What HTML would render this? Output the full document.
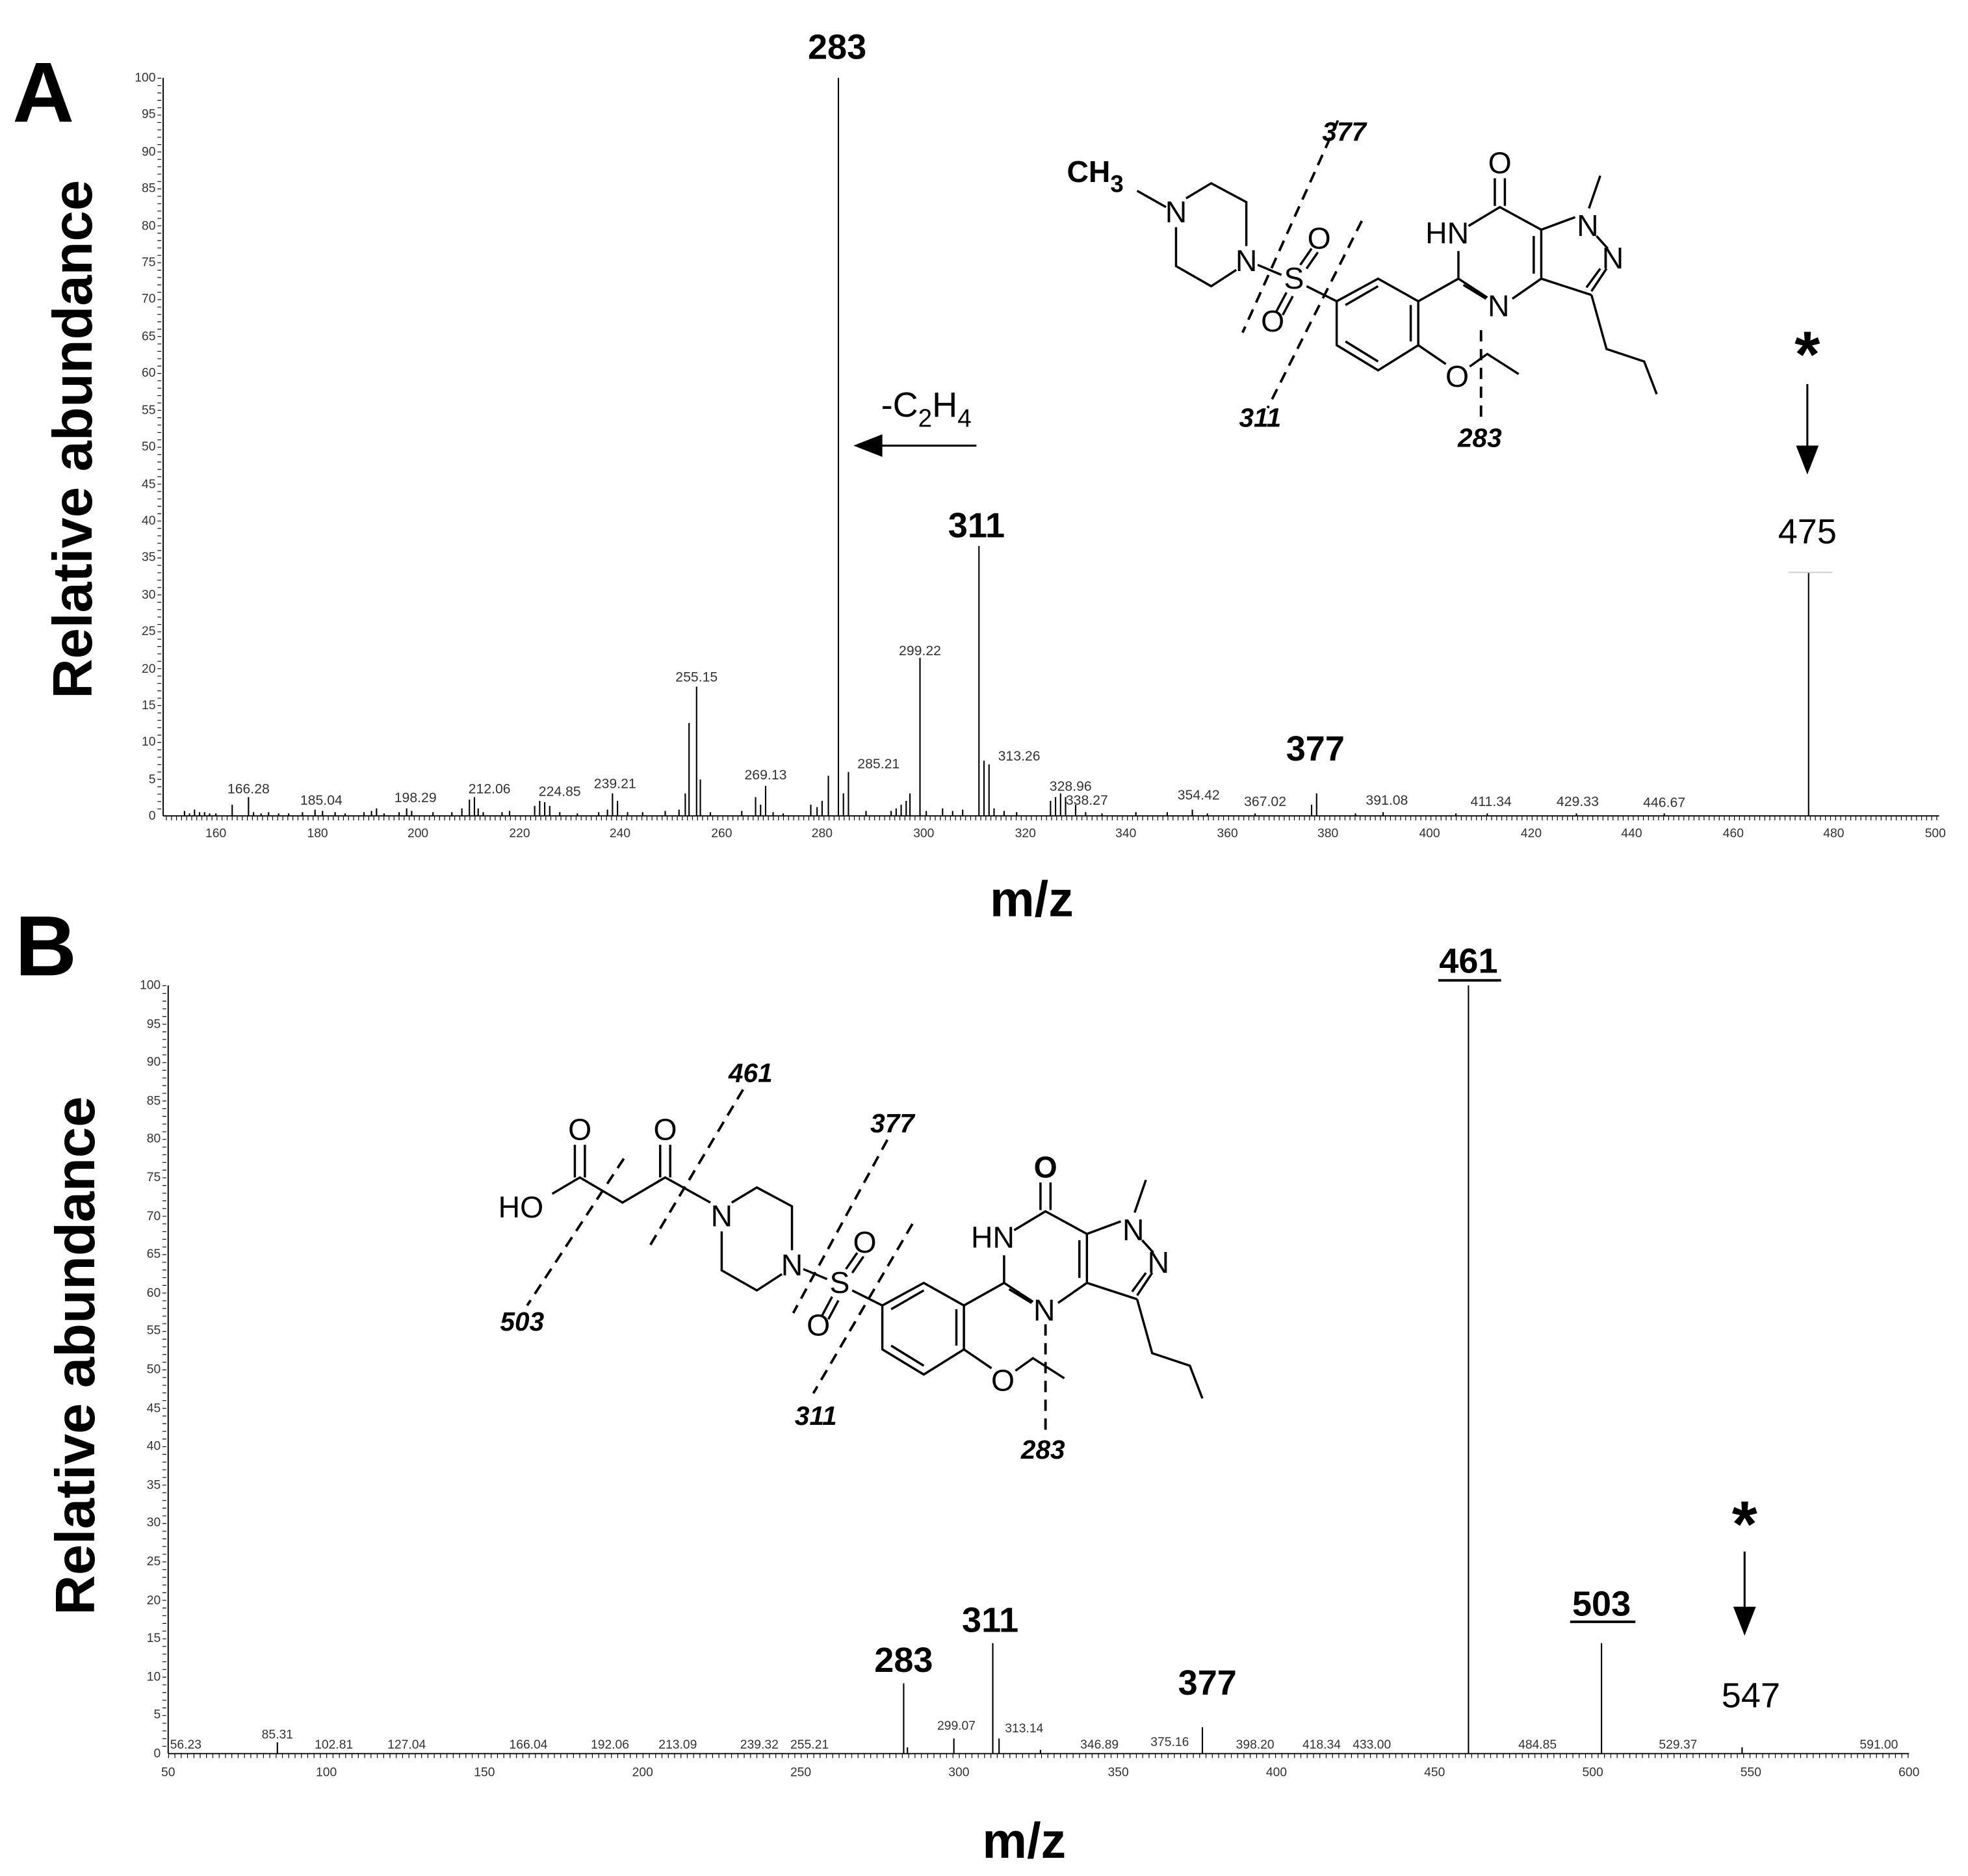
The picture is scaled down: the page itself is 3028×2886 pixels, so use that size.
<!DOCTYPE html>
<html><head><meta charset="utf-8"><style>
html,body{margin:0;padding:0;background:#fff}
svg{display:block}
text{font-family:"Liberation Sans",Arial,sans-serif}
.t{font-size:10px;fill:#333}
.pl{font-size:11px;fill:#333;text-anchor:middle}
.plb{font-size:10px;fill:#333;text-anchor:middle}
.big{font-size:28px;font-weight:bold;text-anchor:middle}
.it{font-size:21px;font-weight:bold;font-style:italic;text-anchor:middle}
.b{stroke:#000;stroke-width:1.8;fill:none}
.d{stroke:#000;stroke-width:2;fill:none;stroke-dasharray:9 6}
.sl{font-size:24px;text-anchor:middle}
</style></head><body>
<svg width="3028" height="2886" viewBox="0 0 1568 1494.5" preserveAspectRatio="none" xmlns="http://www.w3.org/2000/svg">
<!-- ================= PANEL A ================= -->
<text x="10" y="97" style="font-size:68px;font-weight:bold">A</text>
<text transform="translate(73,350) rotate(-90)" style="font-size:44px;font-weight:bold;text-anchor:middle">Relative abundance</text>
<text x="822" y="730" style="font-size:40px;font-weight:bold;text-anchor:middle">m/z</text>
<line x1="130" y1="62" x2="130" y2="650" stroke="#000" stroke-width="1"/>
<line x1="130" y1="650" x2="1545" y2="650" stroke="#000" stroke-width="1"/>
<line x1="127" y1="62" x2="127" y2="650" stroke="#000" stroke-width="3" stroke-dasharray="0.6 5.28"/>
<line x1="131" y1="652" x2="1545" y2="652" stroke="#000" stroke-width="3" stroke-dasharray="0.6 3.43" stroke-dashoffset="-1.3"/>
<g class="t" text-anchor="end">
<text x="124" y="653">0</text><text x="124" y="624">5</text><text x="124" y="594">10</text><text x="124" y="565">15</text><text x="124" y="536">20</text><text x="124" y="506">25</text><text x="124" y="477">30</text><text x="124" y="447">35</text><text x="124" y="418">40</text><text x="124" y="389">45</text><text x="124" y="359">50</text><text x="124" y="330">55</text><text x="124" y="300">60</text><text x="124" y="271">65</text><text x="124" y="241">70</text><text x="124" y="212">75</text><text x="124" y="183">80</text><text x="124" y="153">85</text><text x="124" y="124">90</text><text x="124" y="94">95</text><text x="124" y="65">100</text>
</g>
<g class="t" text-anchor="middle">
<text x="172" y="667">160</text><text x="253" y="667">180</text><text x="333" y="667">200</text><text x="414" y="667">220</text><text x="494" y="667">240</text><text x="575" y="667">260</text><text x="655" y="667">280</text><text x="736" y="667">300</text><text x="817" y="667">320</text><text x="897" y="667">340</text><text x="978" y="667">360</text><text x="1058" y="667">380</text><text x="1139" y="667">400</text><text x="1220" y="667">420</text><text x="1300" y="667">440</text><text x="1381" y="667">460</text><text x="1461" y="667">480</text><text x="1542" y="667">500</text>
</g>
<g stroke="#000" stroke-width="1.1">
<path d="M147 650v-4M151 650v-2M155 650v-5M159 650v-3M163 650v-3M167 650v-2M172 650v-2M185 650v-9M198 650v-15M202 650v-3M208 650v-2M214 650v-3M222 650v-2M230 650v-2M241 650v-3M251 650v-5M257 650v-4M267 650v-3M275 650v-2M290 650v-3M296 650v-4M300 650v-6M306 650v-2M318 650v-3M324 650v-6M328 650v-4M345 650v-3M360 650v-3M368 650v-6M374 650v-13M378 650v-15M381 650v-6M385 650v-3M400 650v-3M406 650v-4M426 650v-8M430 650v-12M434 650v-11M438 650v-8M446 650v-3M460 650v-2M477 650v-3M484 650v-5M488 650v-18M492 650v-12M500 650v-3M512 650v-3M530 650v-4M541 650v-5M546 650v-18M549 650v-74M555 650v-103M558 650v-29M566 650v-3M591 650v-4M602 650v-15M606 650v-9M610 650v-24M616 650v-3M624 650v-2M646 650v-9M651 650v-7M655 650v-12M660 650v-32M668 650v-588M672 650v-18M676 650v-35M690 650v-4M710 650v-4M714 650v-6M718 650v-9M722 650v-12M725 650v-18M733 650v-126M738 650v-4M751 650v-6M759 650v-4M767 650v-5M780 650v-215M784 650v-44M788 650v-41M792 650v-6M800 650v-4M810 650v-3M837 650v-12M841 650v-15M845 650v-18M849 650v-15M857 650v-9M865 650v-3M878 650v-2M905 650v-3M930 650v-3M950 650v-5M962 650v-2M1000 650v-2M1045 650v-9M1049 650v-18M1080 650v-2M1102 650v-3M1160 650v-2M1185 650v-2M1256 650v-2M1326 650v-2M1441 650v-194"/>
</g>
<line x1="1425" y1="456" x2="1460" y2="456" stroke="#ccc" stroke-width="1"/>
<g class="pl">
<text x="198" y="632">166.28</text><text x="256" y="641">185.04</text><text x="331" y="639">198.29</text><text x="390" y="632">212.06</text><text x="446" y="634">224.85</text><text x="490" y="628">239.21</text><text x="555" y="543">255.15</text><text x="610" y="621">269.13</text><text x="700" y="612">285.21</text><text x="733" y="522">299.22</text><text x="812" y="606">313.26</text><text x="853" y="630">328.96</text><text x="866" y="641">338.27</text><text x="955" y="637">354.42</text><text x="1008" y="642">367.02</text><text x="1105" y="641">391.08</text><text x="1188" y="642">411.34</text><text x="1257" y="642">429.33</text><text x="1326" y="643">446.67</text>
</g>
<text class="big" x="667" y="47">283</text>
<text class="big" x="778" y="428">311</text>
<text class="big" x="1048" y="606">377</text>
<text class="big" x="1440" y="433" style="font-weight:normal">475</text>
<text x="1440" y="300" style="font-size:52px;font-weight:bold;text-anchor:middle">*</text>
<line x1="1440" y1="306" x2="1440" y2="360" stroke="#000" stroke-width="1.6"/>
<path d="M1431 355 L1449 355 L1440 378 Z" fill="#000"/>
<text x="738" y="332" style="font-size:28px;text-anchor:middle">-C<tspan dy="8" style="font-size:20px">2</tspan><tspan dy="-8">H</tspan><tspan dy="8" style="font-size:20px">4</tspan></text>
<line x1="700" y1="355" x2="778" y2="355" stroke="#000" stroke-width="1.6"/>
<path d="M680 355 L703 346 L703 364 Z" fill="#000"/>

<!-- Structure A -->
<text x="850" y="145" style="font-size:24px;font-weight:bold">CH<tspan dy="8" style="font-size:19px">3</tspan></text>
<line class="b" x1="906" y1="152" x2="929" y2="165"/>
<g>
<g class="sl">
<text x="937" y="177">N</text><text x="993" y="216">N</text>
<text x="1031" y="230">S</text><text x="1051" y="198">O</text><text x="1014" y="264">O</text>
<text x="1153" y="194">HN</text><text x="1194" y="252">N</text><text x="1195" y="138">O</text>
<text x="1265" y="188">N</text><text x="1285" y="214">N</text><text x="1161" y="308">O</text>
</g>
<path class="b" d="M945 158 L965 146 L993 161 L993 196 M985 215 L965 228 L937 212 L937 181"/>
<path class="b" d="M1002 211 L1021 219 M1036 211 L1045 198 M1041 214 L1050 201 M1025 233 L1017 248 M1030 236 L1022 251 M1041 228 L1065 240"/>
<path class="b" d="M1065 240 L1098 222 L1130 240 L1130 275 L1098 295 L1065 275 Z M1072 243 L1098 228 M1124 243 L1124 272 M1072 272 L1098 288"/>
<path class="b" d="M1130 240 L1162 222 M1162 222 L1162 200 M1170 180 L1195 165 L1228 183 L1228 222 L1205 238 M1162 222 L1185 237 M1166 227 L1184 238 M1222 188 L1222 218 M1191 164 L1191 142 M1199 164 L1199 142 M1228 183 L1255 173 M1266 166 L1275 140 M1272 188 L1281 198 M1280 214 L1268 232 M1275 214 L1264 229 M1228 222 L1268 235 M1268 235 L1280 278 L1310 288 L1320 314"/>
<path class="b" d="M1130 275 L1152 290 M1171 292 L1185 282 L1210 298"/>
</g>
<line class="d" x1="1066" y1="96" x2="990" y2="265"/>
<line class="d" x1="1085" y1="176" x2="1010" y2="325"/>
<line class="d" x1="1180" y1="263" x2="1180" y2="338"/>
<text class="it" x="1071" y="112">377</text>
<text class="it" x="1004" y="340">311</text>
<text class="it" x="1179" y="356">283</text>

<!-- ================= PANEL B ================= -->
<text x="12" y="777" style="font-size:68px;font-weight:bold">B</text>
<text transform="translate(75,1080) rotate(-90)" style="font-size:44px;font-weight:bold;text-anchor:middle">Relative abundance</text>
<text x="816" y="1480" style="font-size:40px;font-weight:bold;text-anchor:middle">m/z</text>
<line x1="134" y1="785" x2="134" y2="1397" stroke="#000" stroke-width="1"/>
<line x1="134" y1="1397" x2="1521" y2="1397" stroke="#000" stroke-width="1"/>
<line x1="131" y1="785" x2="131" y2="1397" stroke="#000" stroke-width="3" stroke-dasharray="0.6 5.52"/>
<line x1="134" y1="1399" x2="1521" y2="1399" stroke="#000" stroke-width="3" stroke-dasharray="0.6 4.44"/>
<g class="t" text-anchor="end">
<text x="128" y="1400">0</text><text x="128" y="1369">5</text><text x="128" y="1339">10</text><text x="128" y="1308">15</text><text x="128" y="1278">20</text><text x="128" y="1247">25</text><text x="128" y="1216">30</text><text x="128" y="1186">35</text><text x="128" y="1155">40</text><text x="128" y="1125">45</text><text x="128" y="1094">50</text><text x="128" y="1063">55</text><text x="128" y="1033">60</text><text x="128" y="1002">65</text><text x="128" y="972">70</text><text x="128" y="941">75</text><text x="128" y="910">80</text><text x="128" y="880">85</text><text x="128" y="849">90</text><text x="128" y="819">95</text><text x="128" y="788">100</text>
</g>
<g class="t" text-anchor="middle">
<text x="134" y="1415">50</text><text x="260" y="1415">100</text><text x="386" y="1415">150</text><text x="512" y="1415">200</text><text x="638" y="1415">250</text><text x="764" y="1415">300</text><text x="891" y="1415">350</text><text x="1017" y="1415">400</text><text x="1143" y="1415">450</text><text x="1269" y="1415">500</text><text x="1395" y="1415">550</text><text x="1521" y="1415">600</text>
</g>
<g stroke="#000" stroke-width="1.1">
<path d="M221 1397v-9M720 1397v-56M723 1397v-5M760 1397v-12M791 1397v-88M796 1397v-12M829 1397v-3M958 1397v-21M1170 1397v-612M1276 1397v-88M1388 1397v-5"/>
</g>
<g class="plb">
<text x="148" y="1393">56.23</text><text x="221" y="1385">85.31</text><text x="266" y="1393">102.81</text><text x="324" y="1393">127.04</text><text x="421" y="1393">166.04</text><text x="486" y="1393">192.06</text><text x="540" y="1393">213.09</text><text x="605" y="1393">239.32</text><text x="645" y="1393">255.21</text><text x="762" y="1378">299.07</text><text x="816" y="1380">313.14</text><text x="876" y="1393">346.89</text><text x="932" y="1391">375.16</text><text x="1000" y="1393">398.20</text><text x="1053" y="1393">418.34</text><text x="1093" y="1393">433.00</text><text x="1225" y="1393">484.85</text><text x="1337" y="1393">529.37</text><text x="1497" y="1393">591.00</text>
</g>
<text class="big" x="1170" y="775">461</text>
<line x1="1146" y1="781" x2="1196" y2="781" stroke="#000" stroke-width="2"/>
<text class="big" x="1276" y="1287">503</text>
<line x1="1251" y1="1292" x2="1303" y2="1292" stroke="#000" stroke-width="2"/>
<text class="big" x="789" y="1300">311</text>
<text class="big" x="720" y="1332">283</text>
<text class="big" x="962" y="1350">377</text>
<text class="big" x="1395" y="1360" style="font-weight:normal">547</text>
<text x="1390" y="1232" style="font-size:52px;font-weight:bold;text-anchor:middle">*</text>
<line x1="1390" y1="1236" x2="1390" y2="1285" stroke="#000" stroke-width="1.6"/>
<path d="M1381 1280 L1399 1280 L1390 1303 Z" fill="#000"/>

<!-- Structure B -->
<g transform="translate(-362,800)">
<g class="sl">
<text x="937" y="177">N</text><text x="993" y="216">N</text>
<text x="1031" y="230">S</text><text x="1051" y="198">O</text><text x="1014" y="264">O</text>
<text x="1153" y="194">HN</text><text x="1194" y="252">N</text><text x="1195" y="138" style="font-weight:bold">O</text>
<text x="1265" y="188">N</text><text x="1285" y="214">N</text><text x="1161" y="308">O</text>
</g>
<path class="b" d="M945 158 L965 146 L993 161 L993 196 M985 215 L965 228 L937 212 L937 181"/>
<path class="b" d="M1002 211 L1021 219 M1036 211 L1045 198 M1041 214 L1050 201 M1025 233 L1017 248 M1030 236 L1022 251 M1041 228 L1065 240"/>
<path class="b" d="M1065 240 L1098 222 L1130 240 L1130 275 L1098 295 L1065 275 Z M1072 243 L1098 228 M1124 243 L1124 272 M1072 272 L1098 288"/>
<path class="b" d="M1130 240 L1162 222 M1162 222 L1162 200 M1170 180 L1195 165 L1228 183 L1228 222 L1205 238 M1162 222 L1185 237 M1166 227 L1184 238 M1222 188 L1222 218 M1191 164 L1191 142 M1199 164 L1199 142 M1228 183 L1255 173 M1266 166 L1275 140 M1272 188 L1281 198 M1280 214 L1268 232 M1275 214 L1264 229 M1228 222 L1268 235 M1268 235 L1280 278 L1310 288 L1320 314"/>
<path class="b" d="M1130 275 L1152 290 M1171 292 L1185 282 L1210 298"/>
</g>
<g class="sl">
<text x="530" y="908">O</text><text x="462" y="908">O</text><text x="415" y="970">HO</text>
</g>
<path class="b" d="M566 958 L530 938 L496 958 L462 938 L440 951 M526 938 L526 912 M534 938 L534 912 M458 938 L458 912 M466 938 L466 912"/>
<line class="d" x1="592" y1="868" x2="518" y2="992"/>
<line class="d" x1="497" y1="923" x2="420" y2="1040"/>
<line class="d" x1="707" y1="908" x2="632" y2="1046"/>
<line class="d" x1="727" y1="975" x2="648" y2="1110"/>
<line class="d" x1="833" y1="1055" x2="833" y2="1140"/>
<text class="it" x="598" y="862">461</text>
<text class="it" x="416" y="1060">503</text>
<text class="it" x="711" y="902">377</text>
<text class="it" x="650" y="1135">311</text>
<text class="it" x="831" y="1162">283</text>
</svg>
</body></html>
